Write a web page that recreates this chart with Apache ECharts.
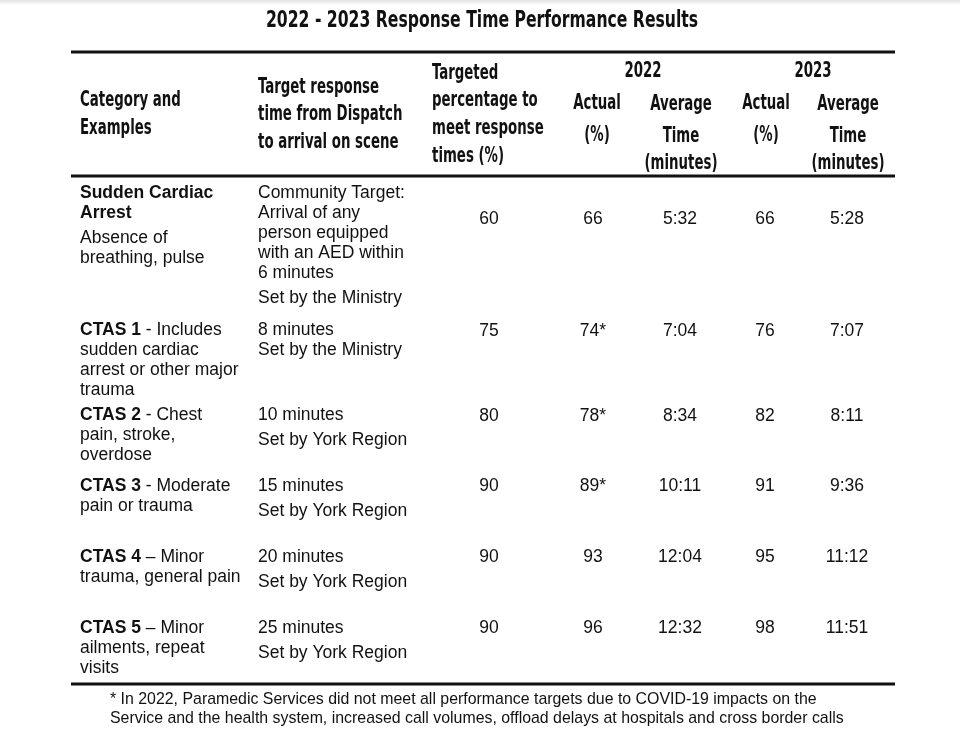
<!DOCTYPE html>
<html>
<head>
<meta charset="utf-8">
<script src="https://cdn.jsdelivr.net/npm/echarts@6/dist/echarts.min.js"></script>
<style>
html,body{margin:0;padding:0;background:#fff;}
#chart{width:960px;height:738px;}
</style>
</head>
<body>
<div id="chart"></div>
<script>
// ---------- DATA ----------
const titleText = '2022 - 2023 Response Time Performance Results';
const headerCategory = ['Category and', 'Examples'];
const headerTarget = ['Target response', 'time from Dispatch', 'to arrival on scene'];
const headerPct = ['Targeted', 'percentage to', 'meet response', 'times (%)'];
const years = ['2022', '2023'];
const headerActual = ['Actual', '(%)'];
const headerAvg = ['Average', 'Time', '(minutes)'];

const categoryNames = [['Sudden Cardiac', 'Arrest'], ['CTAS 1'], ['CTAS 2'], ['CTAS 3'], ['CTAS 4'], ['CTAS 5']];
const categorySeparators = ['', ' - ', ' - ', ' - ', ' \u2013 ', ' \u2013 '];
const categoryExamples = [
  ['Absence of', 'breathing, pulse'],
  ['Includes', 'sudden cardiac', 'arrest or other major', 'trauma'],
  ['Chest', 'pain, stroke,', 'overdose'],
  ['Moderate', 'pain or trauma'],
  ['Minor', 'trauma, general pain'],
  ['Minor', 'ailments, repeat', 'visits']
];
const targetTimes = [
  ['Community Target:', 'Arrival of any', 'person equipped', 'with an AED within', '6 minutes'],
  ['8 minutes'], ['10 minutes'], ['15 minutes'], ['20 minutes'], ['25 minutes']
];
const targetSetBy = ['Set by the Ministry', 'Set by the Ministry', 'Set by York Region', 'Set by York Region', 'Set by York Region', 'Set by York Region'];
const targetPct = [60, 75, 80, 90, 90, 90];
const actual2022 = [66, 74, 78, 89, 93, 96];
const missed2022 = [false, true, true, true, false, false];
const avgTime2022 = ['5:32', '7:04', '8:34', '10:11', '12:04', '12:32'];
const actual2023 = [66, 76, 82, 91, 95, 98];
const avgTime2023 = ['5:28', '7:07', '8:11', '9:36', '11:12', '11:51'];
const footnoteLines = [
  '* In 2022, Paramedic Services did not meet all performance targets due to COVID-19 impacts on the',
  'Service and the health system, increased call volumes, offload delays at hospitals and cross border calls'
];

// ---------- LAYOUT ----------
const L = {
  left: 71, right: 895,
  ruleTop: 52, ruleHead: 176, ruleBottom: 684,
  colCat: 80, colTarget: 258, colPct: 489, col22a: 593, col22t: 680, col23a: 765, col23t: 847,
  rowY: [193, 330, 415, 486, 557, 628],
  numOffset: [26, 1, 1, 0, 0, 0],
  setByGap: [5, 0, 5, 5, 5, 5],
  lineH: 20
};
const BODY_FONT = '"Liberation Sans", Arial, sans-serif';
const HEAD_FONT = '"Liberation Sans Narrow", "DejaVu Sans Condensed", sans-serif';
const BODY_SIZE = 17.5;
const INK = '#111';

function txt(text, x, y, opts) {
  opts = opts || {};
  return {
    type: 'text',
    silent: true,
    scaleX: opts.scaleX || 1,
    scaleY: opts.scaleY || 1,
    originX: x,
    originY: y,
    style: {
      text: text, x: x, y: y,
      fill: opts.fill || INK,
      font: opts.font || (BODY_SIZE + 'px ' + BODY_FONT),
      align: opts.align || 'left', textAlign: opts.align || 'left',
      verticalAlign: 'middle', textVerticalAlign: 'middle',
      rich: opts.rich
    }
  };
}

const headFont = 'bold 19px ' + HEAD_FONT;
const HS = 1.12, HX = 0.78;
function head(t, x, y, align) {
  return txt(t, x, y, {font: headFont, align: align || 'left', scaleX: HX, scaleY: HS});
}
const graphics = [];
graphics.push({type:'rect', silent:true, shape:{x:0,y:0,width:960,height:5},
  style:{fill:new echarts.graphic.LinearGradient(0,0,0,1,[{offset:0,color:'#e4e4e4'},{offset:1,color:'#ffffff'}])}});
graphics.push(txt(titleText, 482, 21, {font:'bold 22px ' + HEAD_FONT, align:'center', scaleX:0.79, scaleY:1.05}));
// rules
[[L.ruleTop,3],[L.ruleHead,3],[L.ruleBottom,3]].forEach(function(r){
  graphics.push({type:'rect', silent:true, shape:{x:L.left, y:r[0]-r[1]/2, width:L.right-L.left, height:r[1]}, style:{fill:'#111'}});
});
// header
headerCategory.forEach(function(t,i){ graphics.push(head(t, L.colCat, 100 + i*28)); });
headerTarget.forEach(function(t,i){ graphics.push(head(t, L.colTarget, 87 + i*27.5)); });
headerPct.forEach(function(t,i){ graphics.push(head(t, 432, 73 + i*27.7)); });
[[643, 597, 681], [813, 766, 848]].forEach(function(c, yi){
  graphics.push(head(years[yi], c[0], 71, 'center'));
  headerActual.forEach(function(t,i){ graphics.push(head(t, c[1], 103 + i*32, 'center')); });
  headerAvg.forEach(function(t,i){ graphics.push(head(t, c[2], 104 + i*(i===2?29.5:32), 'center')); });
});
// footnote
footnoteLines.forEach(function(t,i){ graphics.push(txt(t, 110, 700 + i*19, {font:'15.9px ' + BODY_FONT})); });

const richStyles = {
  b: {fontWeight:'bold', fontSize:BODY_SIZE, fontFamily:BODY_FONT, fill:INK},
  r: {fontSize:BODY_SIZE, fontFamily:BODY_FONT, fill:INK}
};

function renderRow(params, api) {
  const i = api.value(0);
  const y0 = L.rowY[i];
  const children = [];
  const names = categoryNames[i];
  const ex = categoryExamples[i];
  if (names.length > 1) {
    names.forEach(function(n,k){ children.push(txt(n, L.colCat, y0 + k*L.lineH, {font:'bold ' + BODY_SIZE + 'px ' + BODY_FONT})); });
    const yb = y0 + names.length*L.lineH + 5;
    ex.forEach(function(e,k){ children.push(txt(e, L.colCat, yb + k*L.lineH)); });
  } else {
    children.push(txt('{b|' + names[0] + '}{r|' + categorySeparators[i] + ex[0] + '}', L.colCat, y0, {rich: richStyles}));
    ex.slice(1).forEach(function(e,k){ children.push(txt(e, L.colCat, y0 + (k+1)*L.lineH)); });
  }
  const tt = targetTimes[i];
  tt.forEach(function(t,k){ children.push(txt(t, L.colTarget, y0 + k*L.lineH)); });
  children.push(txt(targetSetBy[i], L.colTarget, y0 + tt.length*L.lineH + L.setByGap[i]));
  const yn = y0 + L.numOffset[i];
  children.push(txt(String(targetPct[i]), L.colPct, yn, {align:'center'}));
  children.push(txt(actual2022[i] + (missed2022[i] ? '*' : ''), L.col22a, yn, {align:'center'}));
  children.push(txt(avgTime2022[i], L.col22t, yn, {align:'center'}));
  children.push(txt(String(actual2023[i]), L.col23a, yn, {align:'center'}));
  children.push(txt(avgTime2023[i], L.col23t, yn, {align:'center'}));
  return {type:'group', children: children};
}

const chart = echarts.init(document.getElementById('chart'), null, {renderer:'canvas'});
chart.setOption({
  backgroundColor: '#fff',
  animation: false,
  graphic: graphics,
  series: [{
    type: 'custom',
    coordinateSystem: 'none',
    renderItem: renderRow,
    data: categoryNames.map(function(_, i){ return [i]; }),
    silent: true
  }]
});
</script>
</body>
</html>
